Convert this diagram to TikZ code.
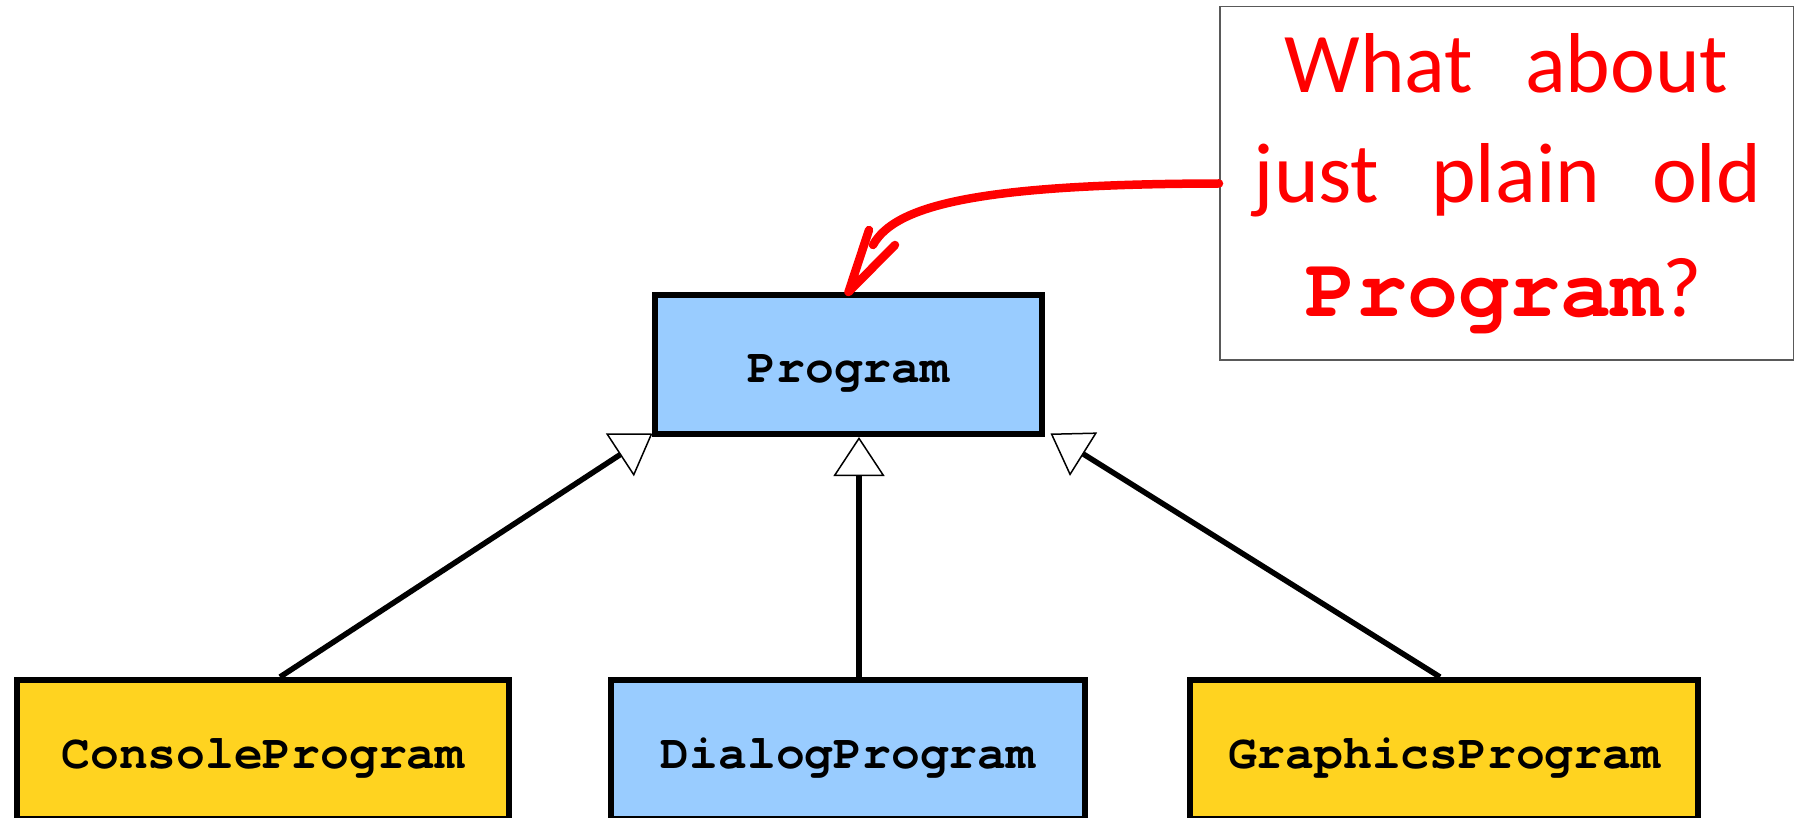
\documentclass[tikz,border=0pt]{standalone}
\usepackage{fontspec}
\setmonofont{texgyrecursor}[Extension=.otf, UprightFont=*-regular, BoldFont=*-bold]
\newfontfamily\handfont[WordSpace=2.7]{Carlito}
\usetikzlibrary{arrows.meta}
\definecolor{classblue}{RGB}{153,204,255}
\definecolor{classyellow}{RGB}{255,211,32}
\definecolor{notered}{RGB}{255,0,0}

\begin{document}
\begin{tikzpicture}[x=1pt,y=-1pt,
  classbox/.style={draw=black, line width=6pt, rectangle, inner sep=0pt,
    minimum height=139pt, text height=40pt, text depth=3pt,
    font=\fontsize{48}{56}\selectfont\ttfamily\bfseries},
  inherit/.style={draw=black, line width=5.5pt,
    -{Triangle[length=39pt,width=51pt,fill=white,line width'=1.5pt]}},
  notebox/.style={draw=black!65, line width=1.5pt, rectangle, inner sep=0pt,
    fill=white},
  handtext/.style={text=notered, inner sep=0pt,
    font=\handfont\fontsize{85}{100}\selectfont},
  noteline/.style={draw=notered, line width=8.5pt, line cap=round, line join=round}
]
\useasboundingbox (0,0) rectangle (1800,818);
\clip (0,0) rectangle (1800,818);
\fill[white] (0,0) rectangle (1800,818);

% class boxes
\node[classbox, fill=classblue, minimum width=387pt] (prog) at (848.5,364.5) {Program};
\node[classbox, fill=classyellow, minimum width=492pt] (console) at (263,749.5) {ConsoleProgram};
\node[classbox, fill=classblue, minimum width=474pt] (dialog) at (848,749.5) {DialogProgram};
\node[classbox, fill=classyellow, minimum width=508pt] (graphics) at (1444,749.5) {GraphicsProgram};

% inheritance arrows
\draw[inherit] ([xshift=17pt]console.north) -- ([xshift=0.5pt,yshift=3.5pt]prog.south west);
\draw[inherit] ([xshift=11pt]dialog.north) -- ([xshift=10.5pt]prog.south);
\draw[inherit] ([xshift=-4pt]graphics.north) -- ([xshift=5.5pt,yshift=3.5pt]prog.south east);

% callout note
\node[notebox, minimum width=573.5pt, minimum height=353.5pt] (note) at (1506.5,183.5) {};
\node[handtext, anchor=base] (line1) at (1506.5,93) {What about};
\node[handtext, anchor=base] (line2) at (1507.5,203) {just plain old};
\node[handtext, anchor=base] (line3) at (1504,317)
  {{\ttfamily\bfseries\fontsize{85}{100}\selectfont Program}?};

% hand-drawn pointer from the note to the base class
\coordinate (shaftend) at (873,245);
\coordinate (barbL) at (869,230);
\coordinate (barbR) at (895,245);
\draw[noteline] (note.west) .. controls (980,184) and (895,205) .. (shaftend);
\draw[noteline] (barbL) -- (prog.north) -- (barbR);
\end{tikzpicture}
\end{document}
